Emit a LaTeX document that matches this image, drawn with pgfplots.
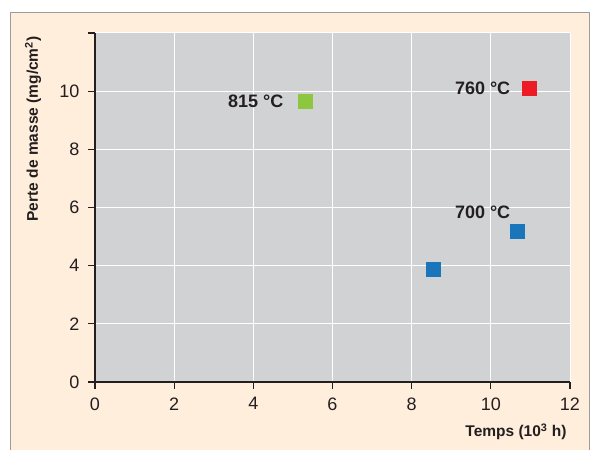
\documentclass[border=0pt]{standalone}
\usepackage{fontspec}
\setmainfont{Liberation Sans}
\usepackage{pgfplots}
\pgfplotsset{compat=1.18}
\definecolor{panel}{HTML}{FFEEDC}
\definecolor{panelrule}{HTML}{9C9C9C}
\definecolor{plotbg}{HTML}{D1D2D4}
\definecolor{ink}{HTML}{231F20}
\definecolor{c815}{HTML}{8DC63F}
\definecolor{c760}{HTML}{ED1C24}
\definecolor{c700}{HTML}{1B75BB}
\begin{document}
\begin{tikzpicture}[x=1pt,y=1pt]
\useasboundingbox (0,0) rectangle (590,450);
\fill[panel] (10,0) rectangle (590,438);
\draw[panelrule, line width=0.8pt] (10,-1) -- (10,438) -- (589.6,438) -- (589.6,-1);
\begin{axis}[
  at={(95pt,68pt)}, anchor=south west,
  scale only axis, width=475pt, height=349pt,
  xmin=0, xmax=12, ymin=0, ymax=12,
  xtick={0,2,...,12}, ytick={0,2,...,12},
  yticklabels={0,2,4,6,8,10,{}},
  axis lines*=left,
  axis line style={ink, line width=1.3pt, -},
  tick style={ink, line width=1.1pt},
  tick align=outside, major tick length=7pt,
  axis background/.style={fill=plotbg},
  grid=major,
  major grid style={white, line width=1pt},
  ticklabel style={font=\fontsize{18}{20}\selectfont, text=ink},
  yticklabel style={xshift=-5pt},
  xticklabel style={yshift=-5pt},
  /pgf/number format/assume math mode=true,
  xlabel={\textbf{Temps (10\textsuperscript{3} h)}},
  xlabel style={at={(axis description cs:1,-0.143)}, anchor=east,
    font=\fontsize{15.5}{17}\selectfont, text=ink},
  ylabel={\textbf{Perte de masse (mg/cm\textsuperscript{2})}},
  ylabel style={at={(axis description cs:-0.1305,1)}, anchor=east, rotate=0,
    font=\fontsize{15.5}{17}\selectfont, text=ink},
  clip=false,
]
\addplot[only marks, mark=square*, mark size=7pt, mark options={draw=c815, fill=c815, line width=0pt}]
  coordinates {(5.33,9.66)};
\addplot[only marks, mark=square*, mark size=7pt, mark options={draw=c760, fill=c760, line width=0pt}]
  coordinates {(10.98,10.1)};
\addplot[only marks, mark=square*, mark size=7pt, mark options={draw=c700, fill=c700, line width=0pt}]
  coordinates {(8.54,3.86)(10.68,5.17)};
\node[anchor=east, text=ink, font=\bfseries\fontsize{18}{20}\selectfont] at (axis cs:4.85,9.66) {815 °C};
\node[anchor=east, text=ink, font=\bfseries\fontsize{18}{20}\selectfont] at (axis cs:10.58,10.1) {760 °C};
\node[anchor=east, text=ink, font=\bfseries\fontsize{18}{20}\selectfont] at (axis cs:10.58,5.83) {700 °C};
\end{axis}
\end{tikzpicture}
\end{document}
